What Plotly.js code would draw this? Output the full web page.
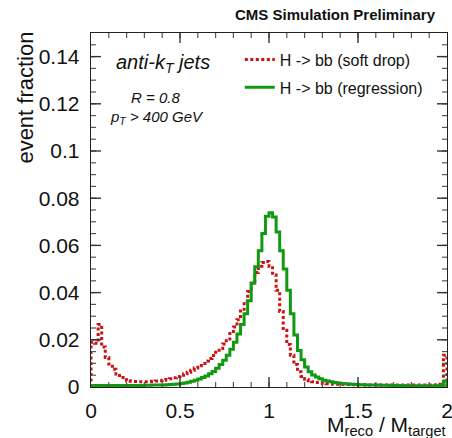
<!DOCTYPE html>
<html>
<head>
<meta charset="utf-8">
<script src="https://cdn.plot.ly/plotly-3.0.1.min.js"></script>
<style>html,body{margin:0;padding:0;background:#fff;}#chart{width:452px;height:438px;}</style>
</head>
<body>
<div id="chart"></div>
<script>
// Histogram: 100 bins of width 0.02 on [0, 2]
var binStart = 0;
var binWidth = 0.02;

var seriesNames = ["H -&gt; bb (soft drop)", "H -&gt; bb (regression)"];

// soft drop (red dotted)
var softDrop = [
  0.0190, 0.0185, 0.0265, 0.0170, 0.0125, 0.0097, 0.0075, 0.0055, 0.0040, 0.0031,
  0.0026, 0.0024, 0.0023, 0.0022, 0.0022, 0.0022, 0.0023, 0.0024, 0.0025, 0.0027,
  0.0029, 0.0032, 0.0035, 0.0039, 0.0044, 0.0050, 0.0056, 0.0063, 0.0071, 0.0080,
  0.0090, 0.0100, 0.0110, 0.0121, 0.0133, 0.0147, 0.0163, 0.0182, 0.0203, 0.0227,
  0.0254, 0.0285, 0.0322, 0.0363, 0.0405, 0.0448, 0.0485, 0.0512, 0.0528, 0.0532,
  0.0512, 0.0475, 0.0410, 0.0320, 0.0240, 0.0180, 0.0135, 0.0095, 0.0065, 0.0045,
  0.0033, 0.0027, 0.0022, 0.0019, 0.0017, 0.0015, 0.0014, 0.0013, 0.0012, 0.0012,
  0.0011, 0.0011, 0.0011, 0.0010, 0.0010, 0.0010, 0.0010, 0.0009, 0.0009, 0.0009,
  0.0009, 0.0009, 0.0009, 0.0008, 0.0008, 0.0008, 0.0008, 0.0008, 0.0008, 0.0008,
  0.0008, 0.0008, 0.0008, 0.0008, 0.0008, 0.0008, 0.0009, 0.0010, 0.0012, 0.0135
];

// regression (green solid)
var regression = [
  0.0005, 0.0006, 0.0006, 0.0006, 0.0006, 0.0006, 0.0006, 0.0006, 0.0006, 0.0006,
  0.0006, 0.0006, 0.0006, 0.0006, 0.0006, 0.0007, 0.0007, 0.0008, 0.0008, 0.0009,
  0.0009, 0.0010, 0.0011, 0.0012, 0.0013, 0.0015, 0.0017, 0.0020, 0.0024, 0.0029,
  0.0034, 0.0040, 0.0047, 0.0056, 0.0066, 0.0079, 0.0095, 0.0113, 0.0135, 0.0160,
  0.0190, 0.0225, 0.0265, 0.0310, 0.0365, 0.0440, 0.0510, 0.0577, 0.0650, 0.0724,
  0.0738, 0.0720, 0.0657, 0.0577, 0.0500, 0.0410, 0.0310, 0.0220, 0.0155, 0.0115,
  0.0085, 0.0065, 0.0051, 0.0042, 0.0035, 0.0029, 0.0025, 0.0022, 0.0019, 0.0017,
  0.0015, 0.0014, 0.0013, 0.0012, 0.0011, 0.0010, 0.0010, 0.0009, 0.0009, 0.0008,
  0.0008, 0.0007, 0.0007, 0.0007, 0.0006, 0.0006, 0.0006, 0.0006, 0.0005, 0.0005,
  0.0005, 0.0005, 0.0005, 0.0005, 0.0005, 0.0005, 0.0005, 0.0005, 0.0006, 0.0025
];

// tick spacing (labels 0, 0.5, 1, 1.5, 2 and 0, 0.02, ..., 0.14)
var xRange = [0, 2], yRange = [0, 0.15];
var xTickStep = 0.5, xMinorStep = 0.1;
var yTickStep = 0.02, yMinorStep = 0.005;

function stepXY(vals) {
  var xs = [binStart], ys = [0];
  for (var i = 0; i < vals.length; i++) {
    xs.push(binStart + i * binWidth);
    ys.push(vals[i]);
  }
  var end = binStart + vals.length * binWidth;
  xs.push(end); ys.push(vals[vals.length - 1]);
  xs.push(end); ys.push(0);
  return {x: xs, y: ys};
}

var FONT = "Liberation Sans, Arial, Helvetica, sans-serif";
var red = '#cc1111';
var green = '#119911';

var s1 = stepXY(softDrop);
var s2 = stepXY(regression);

var traces = [
  {x: s1.x, y: s1.y, type: 'scatter', mode: 'lines', name: seriesNames[0], legendgroup: 'a',
   line: {shape: 'hv', color: red, width: 3, dash: '3px,2.5px'}},
  {x: s2.x, y: s2.y, type: 'scatter', mode: 'lines', name: seriesNames[1], legendgroup: 'b',
   line: {shape: 'hv', color: green, width: 3}}
];

// ROOT-style inward tick marks on all four sides, placed in axis units
var W = 452, H = 438, M = {l: 91, r: 5, t: 33, b: 51};
var plotW = W - M.l - M.r, plotH = H - M.t - M.b;
function tickShapes(step, range, isX, len, width, color) {
  var out = [];
  var n = Math.round((range[1] - range[0]) / step);
  for (var k = 1; k < n; k++) {
    var v = range[0] + k * step;
    var line = {color: color, width: width};
    if (isX) {
      var fy = len / plotH;
      out.push({type: 'line', layer: 'above', xref: 'x', yref: 'paper', x0: v, x1: v, y0: 0, y1: fy, line: line});
      out.push({type: 'line', layer: 'above', xref: 'x', yref: 'paper', x0: v, x1: v, y0: 1, y1: 1 - fy, line: line});
    } else {
      var fx = len / plotW;
      out.push({type: 'line', layer: 'above', xref: 'paper', yref: 'y', x0: 0, x1: fx, y0: v, y1: v, line: line});
      out.push({type: 'line', layer: 'above', xref: 'paper', yref: 'y', x0: 1, x1: 1 - fx, y0: v, y1: v, line: line});
    }
  }
  return out;
}
var shapes = []
  .concat(tickShapes(xMinorStep, xRange, true, 5, 1.2, '#555'))
  .concat(tickShapes(xTickStep, xRange, true, 10, 1.4, '#333'))
  .concat(tickShapes(yMinorStep, yRange, false, 5, 1.2, '#555'))
  .concat(tickShapes(yTickStep, yRange, false, 10, 1.4, '#333'));

var layout = {
  width: W, height: H,
  margin: M,
  font: {family: FONT, color: '#111'},
  showlegend: true,
  legend: {x: 0.418, y: 0.973, xanchor: 'left', yanchor: 'top', bgcolor: 'rgba(0,0,0,0)',
           font: {family: FONT, size: 16, color: '#111'}, tracegroupgap: 4, itemwidth: 30},
  xaxis: {
    range: xRange, dtick: xTickStep, tick0: 0,
    showline: true, linecolor: '#222', linewidth: 1.3, mirror: true,
    ticks: '', showgrid: false, zeroline: false,
    tickfont: {family: FONT, size: 21, color: '#111'},
    ticklabelstandoff: 4, ticklabeloverflow: 'allow'
  },
  yaxis: {
    range: yRange, dtick: yTickStep, tick0: 0,
    showline: true, linecolor: '#222', linewidth: 1.3, mirror: true,
    ticks: '', showgrid: false, zeroline: false,
    tickfont: {family: FONT, size: 21, color: '#111'},
    ticklabelstandoff: 6
  },
  shapes: shapes,
  annotations: [
    {xref: 'paper', yref: 'paper', x: 0.975, y: 1.051, xanchor: 'right', yanchor: 'middle',
     text: '<b>CMS Simulation Preliminary</b>', showarrow: false, font: {family: FONT, size: 15, color: '#111'}},
    {xref: 'paper', yref: 'paper', x: 0.202, y: 0.915, xanchor: 'center', yanchor: 'middle',
     text: '<i>anti-k<sub>T</sub> jets</i>', showarrow: false, font: {family: FONT, size: 20, color: '#111'}},
    {xref: 'paper', yref: 'paper', x: 0.180, y: 0.819, xanchor: 'center', yanchor: 'middle',
     text: '<i>R = 0.8</i>', showarrow: false, font: {family: FONT, size: 15, color: '#111'}},
    {xref: 'paper', yref: 'paper', x: 0.185, y: 0.760, xanchor: 'center', yanchor: 'middle',
     text: '<i>p<sub>T</sub> &gt; 400 GeV</i>', showarrow: false, font: {family: FONT, size: 15, color: '#111'}},
    {xref: 'paper', yref: 'paper', x: 1.003, y: -0.068, xanchor: 'right', yanchor: 'top',
     text: 'M<sub>reco</sub> / M<sub>target</sub>', showarrow: false, font: {family: FONT, size: 21, color: '#111'}},
    {xref: 'paper', yref: 'paper', x: -0.185, y: 1.01, xanchor: 'center', yanchor: 'top', textangle: -90,
     text: 'event fraction', showarrow: false, font: {family: FONT, size: 22, color: '#111'}}
  ]
};

Plotly.newPlot('chart', traces, layout, {displayModeBar: false, staticPlot: true});
</script>
</body>
</html>
